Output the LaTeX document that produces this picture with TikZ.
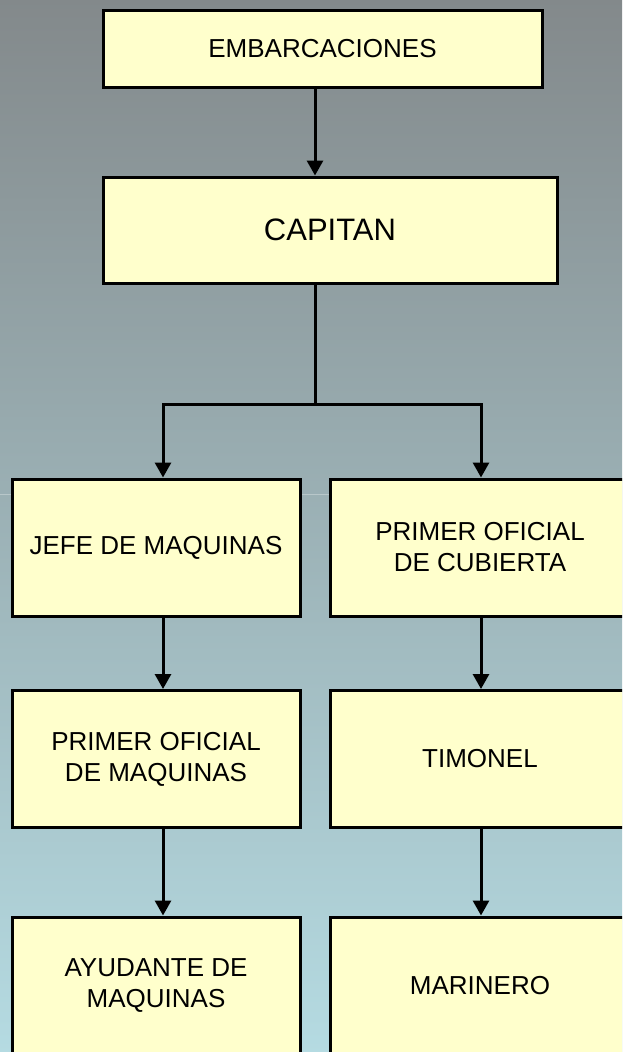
\documentclass[tikz,border=0pt]{standalone}
\usepackage{fontspec}
\setmainfont{Liberation Sans}
\usetikzlibrary{arrows.meta}
\definecolor{bgtop}{RGB}{131,137,139}
\definecolor{bgbot}{RGB}{181,219,226}
\definecolor{boxfill}{RGB}{255,255,204}
\begin{document}
\begin{tikzpicture}[x=1pt,y=-1pt,
  orgbox/.style={draw=black, line width=3pt, fill=boxfill, rectangle, inner sep=0pt,
    align=center, font=\fontsize{26}{31}\selectfont},
  rowbox/.style={orgbox, minimum height=137pt},
  arr/.style={draw=black, line width=3pt, -{Triangle[length=15pt,width=16pt]}},
  conn/.style={draw=black, line width=3pt}]
\useasboundingbox (0,0) rectangle (622,1052);
\clip (0,0) rectangle (622,1052);
\shade[top color=bgtop, bottom color=bgbot] (-2,-2) rectangle (624,1054);
\draw[white, opacity=0.3, line width=1pt] (0,494) -- (622,494);
% boxes
\node[orgbox, minimum width=439pt, minimum height=77pt] (emb) at (322.5,48.5) {EMBARCACIONES};
\node[orgbox, minimum width=454pt, minimum height=106pt, font=\fontsize{31}{36}\selectfont] (cap) at (330,230) {CAPITAN};
\node[rowbox, minimum width=288pt] (jefe) at (156,547.5) {JEFE DE MAQUINAS};
\node[rowbox, minimum width=300pt] (poc) at (480,547.5) {PRIMER OFICIAL\\DE CUBIERTA};
\node[rowbox, minimum width=288pt] (pom) at (156,759) {PRIMER OFICIAL\\DE MAQUINAS};
\node[rowbox, minimum width=300pt] (tim) at (480,759) {TIMONEL};
\node[rowbox, minimum width=288pt] (ayu) at (156,985.5) {AYUDANTE DE\\MAQUINAS};
\node[rowbox, minimum width=300pt] (mar) at (480,985.5) {MARINERO};
% connectors
\coordinate (split) at (315,404);
\draw[arr] ([xshift=-7.5pt]emb.south) -- ([xshift=-15pt]cap.north);
\draw[conn] ([xshift=-15pt]cap.south) -- (split);
\draw[arr] (split) -| ([xshift=7pt]jefe.north);
\draw[arr] (split) -| ([xshift=1pt]poc.north);
\draw[arr] ([xshift=7pt]jefe.south) -- ([xshift=7pt]pom.north);
\draw[arr] ([xshift=1pt]poc.south) -- ([xshift=1pt]tim.north);
\draw[arr] ([xshift=7pt]pom.south) -- ([xshift=7pt]ayu.north);
\draw[arr] ([xshift=1pt]tim.south) -- ([xshift=1pt]mar.north);
\end{tikzpicture}
\end{document}
